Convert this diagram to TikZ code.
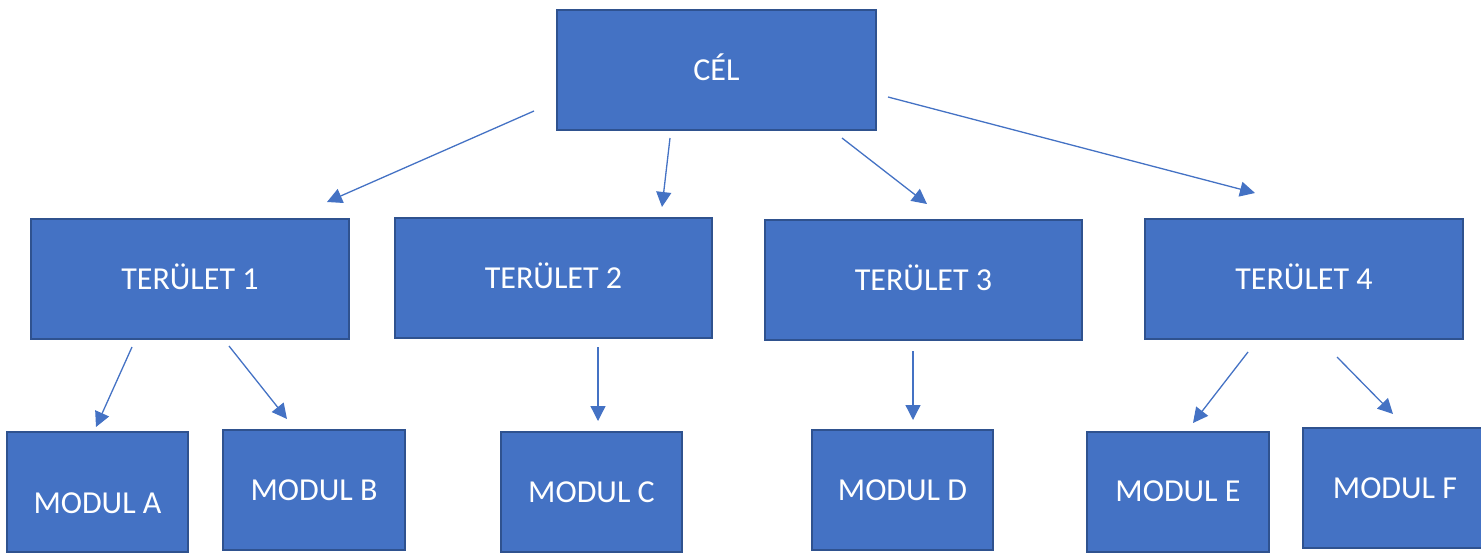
\documentclass[tikz,border=0pt]{standalone}
\usepackage{fontspec}
\setmainfont{Carlito}
\usetikzlibrary{arrows.meta}
\definecolor{boxfill}{HTML}{4472C4}
\definecolor{boxline}{HTML}{2F528F}
\definecolor{arrowc}{HTML}{4472C4}
\begin{document}
\begin{tikzpicture}[x=1pt,y=-1pt,
  box/.style={draw=boxline, fill=boxfill, line width=2pt, rectangle, inner sep=0pt,
    text=white, font=\fontsize{32}{36}\selectfont, text height=20.6pt, text depth=0pt},
  conn/.style={draw=arrowc, line width=1.3pt, -{Triangle[length=15pt,width=15pt]}}]
\useasboundingbox (0,0) rectangle (1481,552);
\clip (0,0) rectangle (1481,552);
% top
\node[box, minimum width=319pt, minimum height=120pt] (cel) at (716.5,70) {CÉL};
% level 2
\node[box, minimum width=318pt, minimum height=120pt] (t1) at (190,279) {TERÜLET 1};
\node[box, minimum width=317pt, minimum height=120pt] (t2) at (553.5,278) {TERÜLET 2};
\node[box, minimum width=317pt, minimum height=120pt] (t3) at (923.5,280) {TERÜLET 3};
\node[box, minimum width=318pt, minimum height=120pt] (t4) at (1304,279) {TERÜLET 4};
% level 3
\node[box, minimum width=181pt, minimum height=120pt] (ma) at (97.5,492) {\raisebox{-11pt}{MODUL A}};
\node[box, minimum width=182pt, minimum height=120pt] (mb) at (314,490) {MODUL B};
\node[box, minimum width=181pt, minimum height=120pt] (mc) at (591.5,492) {MODUL C};
\node[box, minimum width=181pt, minimum height=120pt] (md) at (902.5,490) {MODUL D};
\node[box, minimum width=182pt, minimum height=120pt] (me) at (1178,491.5) {MODUL E};
\node[box, minimum width=184pt, minimum height=120pt] (mf) at (1395,488) {MODUL F};
% arrow end points
\coordinate (c1s) at (534,111);  \coordinate (c1e) at (327,202);
\coordinate (c2s) at (670,138);  \coordinate (c2e) at (662,207);
\coordinate (c3s) at (842,138);  \coordinate (c3e) at (927,204);
\coordinate (c4s) at (888,97);   \coordinate (c4e) at (1255,193);
\coordinate (aS) at (132,347);   \coordinate (aE) at (96,427);
\coordinate (bS) at (229,346);   \coordinate (bE) at (287,419);
\coordinate (cS) at (598,347);   \coordinate (cE) at (598,421);
\coordinate (dS) at (913,351);   \coordinate (dE) at (913,420);
\coordinate (eS) at (1248,352);  \coordinate (eE) at (1193,423);
\coordinate (fS) at (1337,357);  \coordinate (fE) at (1393,414);
\draw[conn] (c1s) -- (c1e);
\draw[conn] (c2s) -- (c2e);
\draw[conn] (c3s) -- (c3e);
\draw[conn] (c4s) -- (c4e);
\draw[conn] (aS) -- (aE);
\draw[conn] (bS) -- (bE);
\draw[conn] (cS) -- (cE);
\draw[conn] (dS) -- (dE);
\draw[conn] (eS) -- (eE);
\draw[conn] (fS) -- (fE);
\end{tikzpicture}
\end{document}
